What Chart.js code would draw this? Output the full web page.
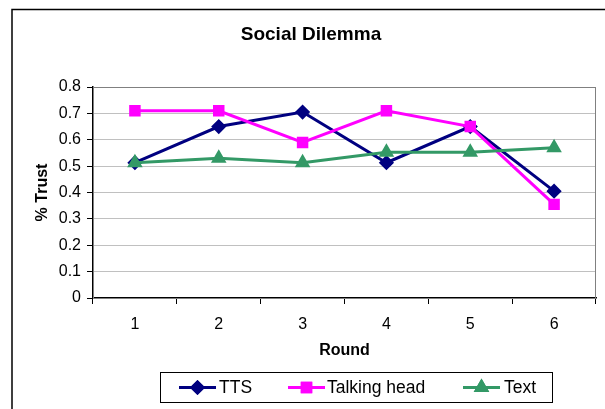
<!DOCTYPE html>
<html>
<head>
<meta charset="utf-8">
<title>Social Dilemma</title>
<script src="https://cdn.jsdelivr.net/npm/chart.js@4/dist/chart.umd.min.js"></script>
<style>
    html, body { margin: 0; padding: 0; background: #fff; }
    canvas { display: block; }
</style>
</head>
<body>
<canvas id="trustChart" width="605" height="409"></canvas>
<script>
const rounds = ['1', '2', '3', '4', '5', '6'];
const ttsValues = [0.513, 0.65, 0.705, 0.513, 0.65, 0.405];
const talkingHeadValues = [0.71, 0.71, 0.59, 0.71, 0.65, 0.355];
const textValues = [0.513, 0.53, 0.513, 0.553, 0.553, 0.57];
const seriesNames = ['TTS', 'Talking head', 'Text'];
const yTicks = [0, 0.1, 0.2, 0.3, 0.4, 0.5, 0.6, 0.7, 0.8];

const FONT = "'Liberation Sans', Arial, sans-serif";

// Excel style frame, title, plot border and boxed legend
const excelFrame = {
    id: 'excelFrame',
    beforeDatasetsDraw(chart) {
        const { ctx, chartArea } = chart;
        ctx.save();
        ctx.strokeStyle = '#808080';
        ctx.lineWidth = 1;
        ctx.strokeRect(chartArea.left + 0.5, chartArea.top + 0.5,
            chartArea.right - chartArea.left - 1, chartArea.bottom - chartArea.top);
        ctx.restore();
    },
    afterDraw(chart) {
        const ctx = chart.ctx;
        ctx.save();

        // outer chart border (runs off the right and bottom)
        ctx.strokeStyle = '#000';
        ctx.lineWidth = 1.5;
        ctx.beginPath();
        ctx.moveTo(12, 420);
        ctx.lineTo(12, 9.5);
        ctx.lineTo(620, 9.5);
        ctx.stroke();

        // title
        ctx.fillStyle = '#000';
        ctx.font = 'bold 19px ' + FONT;
        ctx.textAlign = 'center';
        ctx.textBaseline = 'middle';
        ctx.fillText('Social Dilemma', 311, 35);

        // legend box
        ctx.lineWidth = 1;
        ctx.strokeRect(160.5, 372.5, 392, 30);

        const items = [
            { lineX: 179, textX: 219 },
            { lineX: 288, textX: 327 },
            { lineX: 463, textX: 504 }
        ];
        const cy = 387.5;
        ctx.font = '17.5px ' + FONT;
        ctx.textAlign = 'left';
        chart.data.datasets.forEach((ds, i) => {
            const it = items[i];
            ctx.strokeStyle = ds.borderColor;
            ctx.lineWidth = ds.borderWidth;
            ctx.beginPath();
            ctx.moveTo(it.lineX, cy);
            ctx.lineTo(it.lineX + 37, cy);
            ctx.stroke();
            Chart.helpers.drawPoint(ctx, {
                pointStyle: ds.pointStyle,
                radius: ds.pointRadius,
                rotation: 0,
                borderWidth: 1
            }, it.lineX + 18.5, cy);
            ctx.fillStyle = ds.pointBackgroundColor;
            ctx.strokeStyle = ds.pointBorderColor;
            ctx.fill();
            ctx.stroke();
            ctx.fillStyle = '#000';
            ctx.fillText(ds.label, it.textX, cy + 1);
        });
        ctx.restore();
    }
};

const ctx = document.getElementById('trustChart').getContext('2d');
new Chart(ctx, {
    type: 'line',
    data: {
        labels: rounds,
        datasets: [{
            label: seriesNames[0],
            data: ttsValues,
            borderColor: '#000080',
            backgroundColor: '#000080',
            pointBackgroundColor: '#000080',
            pointBorderColor: '#000080',
            pointStyle: 'rectRot',
            pointRadius: 5.5,
            borderWidth: 3,
            order: 2
        }, {
            label: seriesNames[1],
            data: talkingHeadValues,
            borderColor: '#FF00FF',
            backgroundColor: '#FF00FF',
            pointBackgroundColor: '#FF00FF',
            pointBorderColor: '#FF00FF',
            pointStyle: 'rect',
            pointRadius: 6,
            borderWidth: 3,
            order: 1
        }, {
            label: seriesNames[2],
            data: textValues,
            borderColor: '#339966',
            backgroundColor: '#339966',
            pointBackgroundColor: '#339966',
            pointBorderColor: '#339966',
            pointStyle: 'triangle',
            pointRadius: 6,
            borderWidth: 3,
            order: 0
        }]
    },
    options: {
        responsive: false,
        animation: false,
        layout: { padding: { left: 30, right: 8, top: 87, bottom: 0 } },
        plugins: {
            legend: { display: false },
            title: { display: false },
            tooltip: { enabled: false }
        },
        elements: { line: { tension: 0 } },
        scales: {
            x: {
                offset: true,
                grid: {
                    offset: true,
                    drawOnChartArea: false,
                    tickLength: 6,
                    tickColor: '#000'
                },
                border: { color: '#000', width: 1.5 },
                ticks: { color: '#000', padding: 11, font: { family: FONT, size: 16 } },
                title: {
                    display: true,
                    text: 'Round',
                    color: '#000',
                    font: { family: FONT, size: 16, weight: 'bold' },
                    padding: { top: 0, bottom: 49 }
                },
                afterFit(scale) { scale.height = 111; }
            },
            y: {
                min: 0,
                max: 0.8,
                afterBuildTicks(scale) { scale.ticks = yTicks.map(v => ({ value: v })); },
                grid: {
                    color: '#c0c0c0',
                    tickLength: 6,
                    tickColor: '#000'
                },
                border: { color: '#000', width: 1.5 },
                ticks: {
                    color: '#000',
                    padding: 6,
                    font: { family: FONT, size: 16 },
                    callback: v => String(Number(v.toFixed(1)))
                },
                title: {
                    display: true,
                    text: '% Trust',
                    color: '#000',
                    font: { family: FONT, size: 16, weight: 'bold' },
                    padding: { top: 3, bottom: 0 }
                },
                afterFit(scale) { scale.width = 63; }
            }
        }
    },
    plugins: [excelFrame]
});
</script>
</body>
</html>
